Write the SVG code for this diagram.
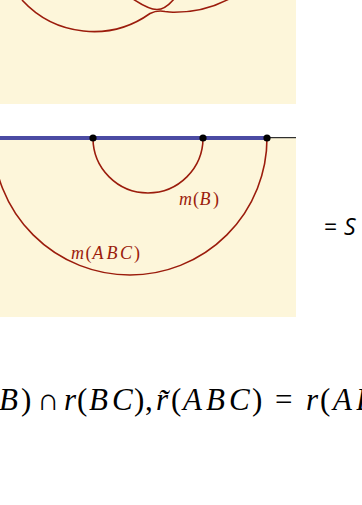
<svg xmlns="http://www.w3.org/2000/svg" width="362" height="505" viewBox="0 0 362 505">
<style>
.panel{fill:#fdf6da}
.arc{fill:none;stroke:#9b1c0c;stroke-width:1.6}
.lbl{font-family:"Liberation Serif",serif;font-size:18px;fill:#9b1c0c}
.it{font-style:italic}
.math{font-family:"Liberation Serif","DejaVu Serif",serif;font-size:31px;fill:#000}
.dot{fill:#000}
</style>
<rect width="362" height="505" fill="#fff"/>
<g id="top-panel">
<rect class="panel" x="0" y="0" width="296" height="104"/>
<path class="arc" d="M22,0 A97,97 0 0 0 150,13.5 C155,11 160,10.5 165,11.5 C168,12 171,12.3 173,12.3"/>
<path class="arc" d="M173,12.3 C195,12.5 214,7 229,-1"/>
<path class="arc" d="M133,-1 C142,5 150,9.5 157,9.5 C164,9.5 169,5 174,-1"/>
</g>
<g id="bottom-panel">
<rect class="panel" x="0" y="138" width="296" height="179"/>
</g>
<g id="connectors">
<line x1="0" y1="138" x2="267" y2="138" stroke="#4b4ba3" stroke-width="4"/>
<line x1="267" y1="137.7" x2="296" y2="137.7" stroke="#000" stroke-width="1"/>
<path id="arc-B" class="arc" d="M93,138 A55,55 0 0 0 203,138"/>
<path id="arc-ABC" class="arc" d="M-7,138 A137,137 0 0 0 267,138"/>
</g>
<g id="points">
<circle class="dot" cx="93" cy="138" r="3.6"/>
<circle class="dot" cx="203" cy="138" r="3.6"/>
<circle class="dot" cx="267" cy="138" r="3.6"/>
</g>
<g id="label-mB">
<text class="lbl" y="205"><tspan class="it" x="179">m</tspan><tspan x="193">(</tspan><tspan class="it" x="199.5">B</tspan><tspan x="213">)</tspan></text>
</g>
<g id="label-mABC">
<text class="lbl" y="259"><tspan class="it" x="71">m</tspan><tspan x="85.5">(</tspan><tspan class="it" x="92.5">A</tspan><tspan class="it" x="106.5">B</tspan><tspan class="it" x="120">C</tspan><tspan x="134">)</tspan></text>
</g>
<g id="eq-S">
<text y="235" font-family="'Open Sans',sans-serif" font-size="23" fill="#000"><tspan x="324">=</tspan><tspan x="344" font-style="italic">S</tspan></text>
</g>
<g id="formula">
<text class="math" y="410"><tspan class="it" x="-1">B</tspan><tspan x="21">)</tspan><tspan x="37">∩</tspan><tspan class="it" x="64">r</tspan><tspan x="77">(</tspan><tspan class="it" x="89">B</tspan><tspan class="it" x="112">C</tspan><tspan x="134">)</tspan><tspan x="145">,</tspan><tspan class="it" x="156">r̃</tspan><tspan x="171">(</tspan><tspan class="it" x="183">A</tspan><tspan class="it" x="206">B</tspan><tspan class="it" x="229">C</tspan><tspan x="252">)</tspan><tspan x="275">=</tspan><tspan class="it" x="306">r</tspan><tspan x="320">(</tspan><tspan class="it" x="333">A</tspan><tspan class="it" x="356">B</tspan></text>
</g>
</svg>
